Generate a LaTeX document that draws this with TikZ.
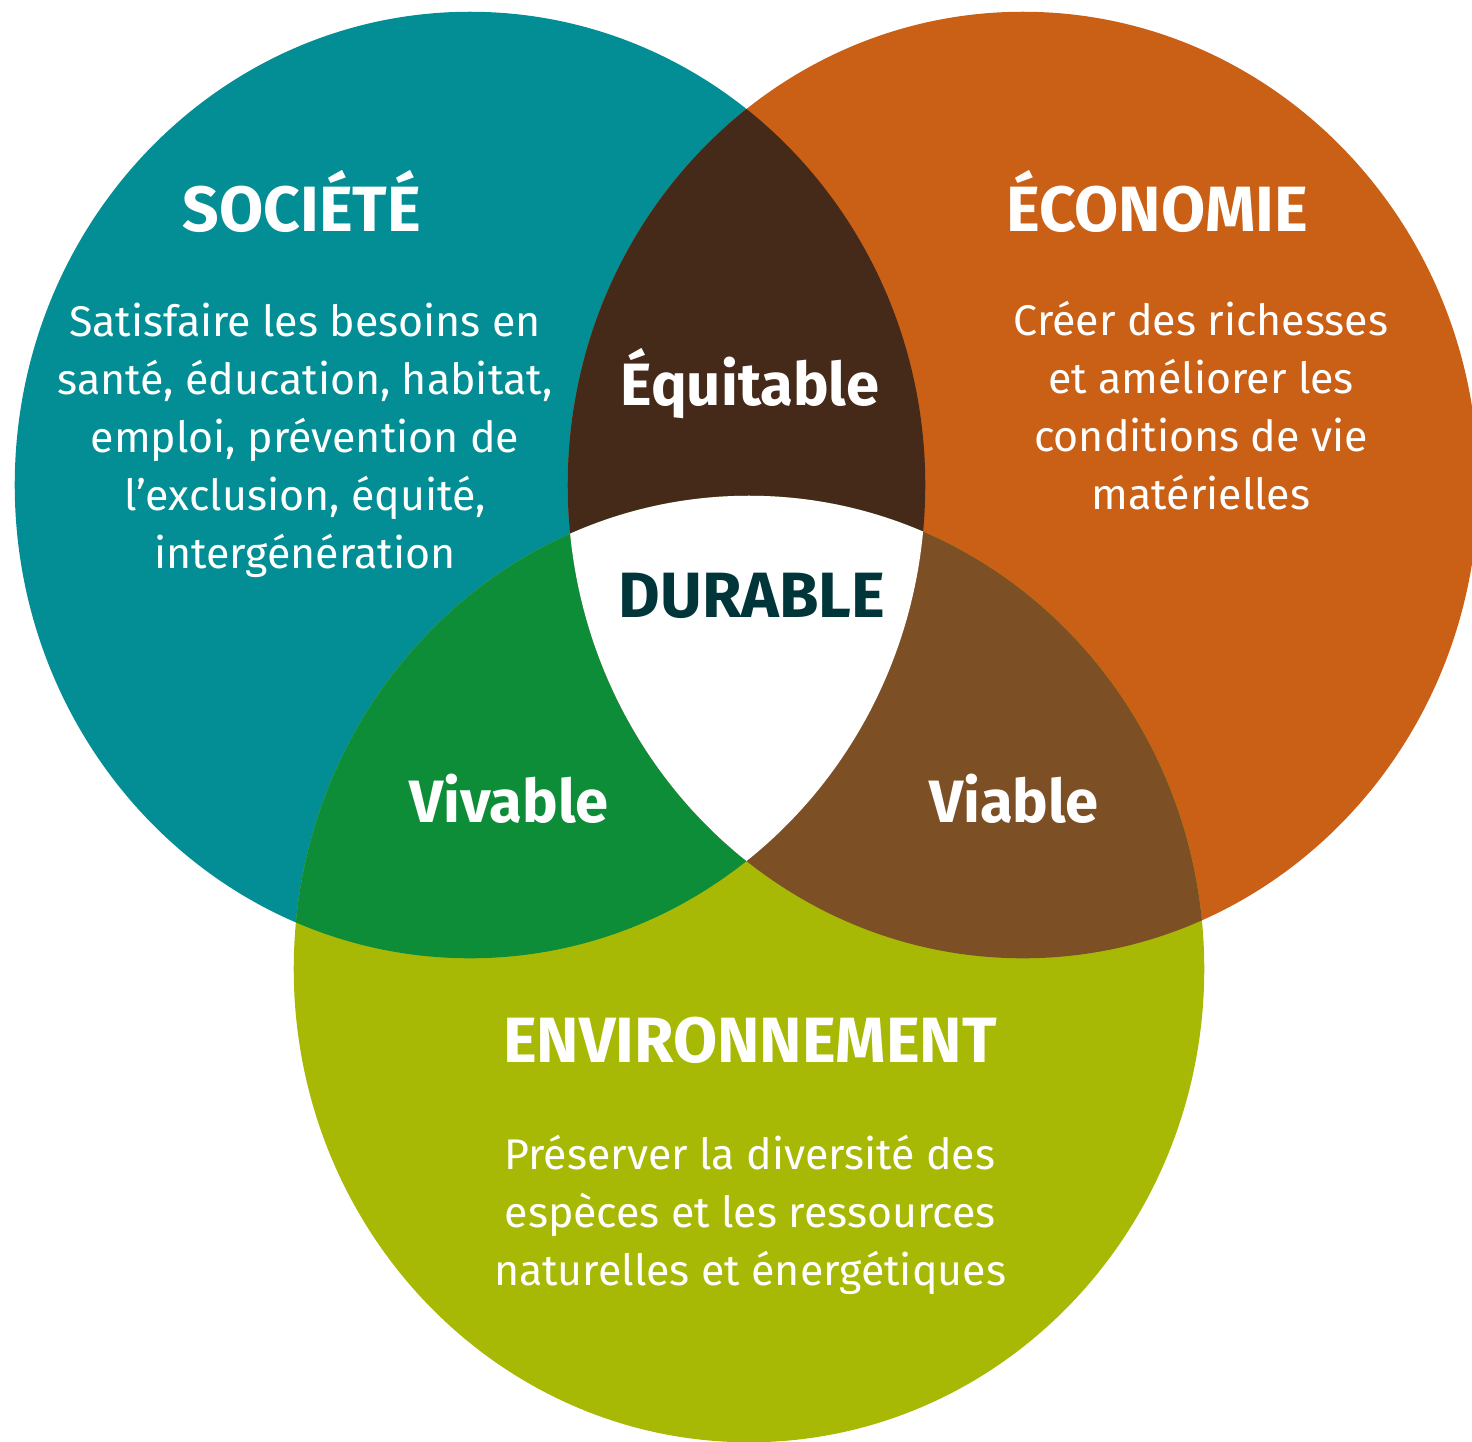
\documentclass[tikz,border=0pt]{standalone}
\usepackage{fontspec}
\setmainfont{Fira Sans}
\usepackage{xcolor}
\usepackage{tikz}

\definecolor{societe}{HTML}{038E95}
\definecolor{economie}{HTML}{C96016}
\definecolor{environnement}{HTML}{A8B905}
\definecolor{equitable}{HTML}{452A1A}
\definecolor{vivable}{HTML}{0E8D38}
\definecolor{viable}{HTML}{7D4F25}
\definecolor{durable}{HTML}{00353A}

\begin{document}
\begin{tikzpicture}[x=0.01cm, y=-0.01cm,
	titre/.style={anchor=base, text=white, font=\fontsize{18.2}{21}\selectfont\bfseries},
	mot/.style={anchor=base, text=white, font=\fontsize{17}{20}\selectfont\bfseries},
	texte/.style={text=white, align=center, font=\fontsize{12.2}{16.5}\selectfont}]

\useasboundingbox (0,0) rectangle (1472,1441);

\def \rx {4.55cm}
\def \ry {4.73cm}

\coordinate (soc) at ( 470, 485);
\coordinate (eco) at (1023, 485);
\coordinate (env) at ( 749, 969);

% les trois cercles
\foreach \c/\col in {soc/societe, eco/economie, env/environnement}{
	\fill[\col] (\c) ellipse [x radius=\rx, y radius=\ry];
}

% intersections deux a deux
\begin{scope}
	\clip (soc) ellipse [x radius=\rx, y radius=\ry];
	\fill[equitable] (eco) ellipse [x radius=\rx, y radius=\ry];
	\fill[vivable]   (env) ellipse [x radius=\rx, y radius=\ry];
\end{scope}
\begin{scope}
	\clip (eco) ellipse [x radius=\rx, y radius=\ry];
	\fill[viable] (env) ellipse [x radius=\rx, y radius=\ry];
\end{scope}

% centre
\begin{scope}
	\clip (soc) ellipse [x radius=\rx, y radius=\ry];
	\clip (eco) ellipse [x radius=\rx, y radius=\ry];
	\fill[white] (env) ellipse [x radius=\rx, y radius=\ry];
\end{scope}

% titres
\node[titre] (t-soc) at ( 302, 231) {SOCIÉTÉ};
\node[titre] (t-eco) at (1157, 231) {ÉCONOMIE};
\node[titre] (t-env) at ( 750,1062) {ENVIRONNEMENT};
\node[titre, text=durable] (dura) at (752, 617) {DURABLE};

\node[mot] (equi) at ( 750, 405) {Équitable};
\node[mot] (viva) at ( 509, 822) {Vivable};
\node[mot] (viab) at (1014, 822) {Viable};

% textes
\node[texte] (x-soc) at ( 305, 440) {Satisfaire les besoins en\\santé, éducation, habitat,\\emploi, prévention de\\l’exclusion, équité,\\intergénération};
\node[texte] (x-eco) at (1201, 406) {Créer des richesses\\et améliorer les\\conditions de vie\\matérielles};
\node[texte] (x-env) at ( 750,1215) {Préserver la diversité des\\espèces et les ressources\\naturelles et énergétiques};

\end{tikzpicture}
\end{document}
